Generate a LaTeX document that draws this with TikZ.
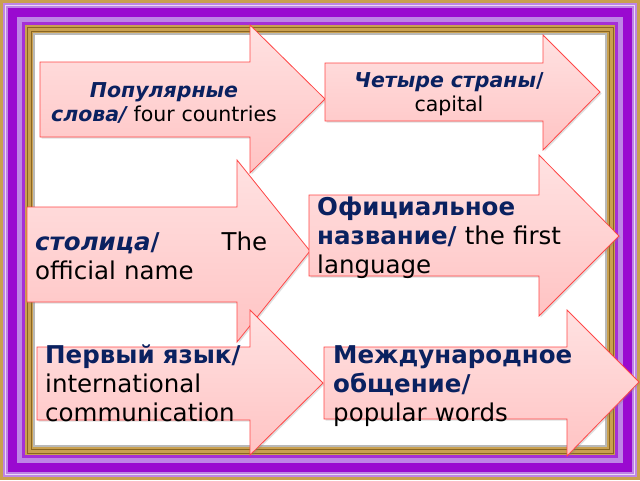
\documentclass[tikz,border=0pt]{standalone}
\usepackage{fontspec}
\setmainfont{DejaVu Sans}
\usepackage{xcolor}
\usetikzlibrary{shadows}
\definecolor{gold}{HTML}{C9A04F}
\definecolor{darkgold}{HTML}{8A6522}
\definecolor{lavender}{HTML}{BE85E6}
\definecolor{violet1}{HTML}{9A0AD0}
\definecolor{pinktop}{HTML}{FFE2E2}
\definecolor{pinkbot}{HTML}{FFC3C3}
\definecolor{rimred}{HTML}{FF4848}
\definecolor{navy}{HTML}{0A2160}

\begin{document}
\begin{tikzpicture}[x=1pt,y=-1pt,
  pinkarrow/.style={draw=rimred,line width=.8pt,top color=pinktop,bottom color=pinkbot,
    drop shadow={shadow xshift=1.5pt,shadow yshift=-1.5pt,opacity=.25}},
  wordtext/.style={inner sep=0pt,anchor=base west,align=left},
  bigtext/.style={font=\fontsize{24.5}{29}\selectfont},
  smalltext/.style={font=\fontsize{20.5}{24}\selectfont}]

\useasboundingbox (0,0) rectangle (640,480);

%frame
\fill[gold] (0,0) rectangle (640,480);
\fill[lavender] (3,3) rectangle (637,477);
\draw[white,line width=1.5pt,opacity=.7] (5.5,5.5) rectangle (634.5,474.5);
\fill[violet1] (8,8) rectangle (632,472);
\fill[lavender] (17,17) rectangle (623,463);
\fill[violet1!70!lavender] (22,22) rectangle (618,458);
\fill[gold] (25,25) rectangle (615,455);
\draw[darkgold,line width=1pt] (27,27) rectangle (613,453);
\draw[darkgold,line width=1pt] (31,31) rectangle (609,449);
\fill[gray!55] (33,33) rectangle (607,447);
\fill[white] (35,35) rectangle (605,445);

%arrows
\draw[pinkarrow] (40,62)--(250,62)--(250,25)--(325,99)--(250,173)--(250,137)--(40,137)--cycle;
\draw[pinkarrow] (325,63)--(543,63)--(543,35)--(600,92)--(543,150)--(543,121)--(325,121)--cycle;
\draw[pinkarrow] (27,207)--(237,207)--(237,160)--(310,251)--(237,342)--(237,302)--(27,302)--cycle;
\draw[pinkarrow] (309,195)--(539,195)--(539,155)--(619,236)--(539,316)--(539,276)--(309,276)--cycle;
\draw[pinkarrow] (37,347)--(250,347)--(250,310)--(323,383)--(250,455)--(250,420)--(37,420)--cycle;
\draw[pinkarrow] (324,347)--(567,347)--(567,310)--(639,382)--(567,456)--(567,419)--(324,419)--cycle;

%words
\node[wordtext,smalltext,align=center,text width=250pt,anchor=base] (popular) at (164,97)
  {\textcolor{navy}{\bfseries\itshape Популярные\\слова/} four countries};
\node[wordtext,smalltext,align=center,text width=220pt,anchor=base] (four) at (449,87)
  {\textcolor{navy}{\bfseries\itshape Четыре страны}\textcolor{navy}{\bfseries/}\\capital};
\node[wordtext,bigtext,text width=232pt] (capital) at (35,250)
  {\textcolor{navy}{\bfseries\itshape столица}\textcolor{navy}{\bfseries/}\hfill The\\official name};
\node[wordtext,bigtext,text width=280pt] (official) at (317,215)
  {\textcolor{navy}{\bfseries Официальное\\название/} the first\\language};
\node[wordtext,bigtext,text width=240pt] (first) at (45,363)
  {\textcolor{navy}{\bfseries Первый язык/}\\international\\communication};
\node[wordtext,bigtext,text width=260pt] (intl) at (333,363)
  {\textcolor{navy}{\bfseries Международное\\общение/}\\popular words};

\end{tikzpicture}
\end{document}
